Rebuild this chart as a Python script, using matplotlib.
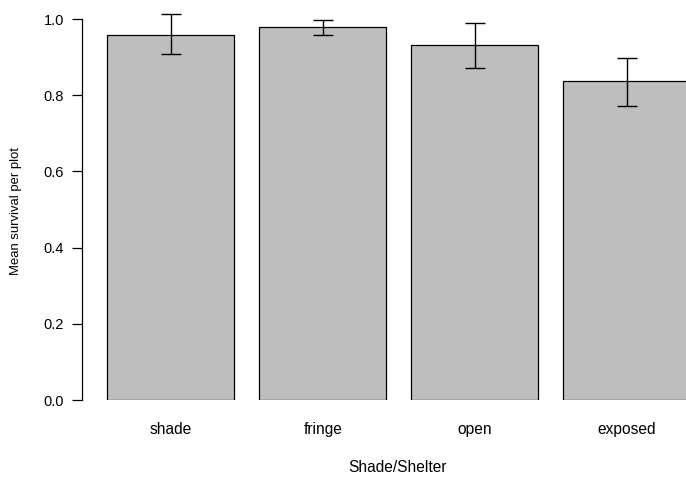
import matplotlib
matplotlib.use("Agg")
import matplotlib.pyplot as plt
import numpy as np

plt.rcParams['font.family'] = ['Liberation Sans', 'DejaVu Sans']

categories = ["shade", "fringe", "open", "exposed"]
means = [0.959, 0.980, 0.933, 0.838]
err_low = [0.052, 0.022, 0.062, 0.066]
err_high = [0.053, 0.017, 0.057, 0.061]
yticks = [0.0, 0.2, 0.4, 0.6, 0.8, 1.0]

W, H = 686, 479
unit = 126.7
fig = plt.figure(figsize=(W / 100, H / 100), dpi=100)
ax = fig.add_axes([82 / W, (H - 400) / H, (W - 82) / W, 400 / H])

x = 0.2 + 0.5 + np.arange(len(categories)) * 1.2
ax.bar(x, means, width=1.0, color="#BEBEBE", edgecolor="black", linewidth=0.9)
ax.errorbar(x, means, yerr=[err_low, err_high], fmt="none", ecolor="black",
            elinewidth=1.0, capsize=7.5, capthick=1.0, clip_on=False)

ax.set_xlim(0.0, (W - 82) / unit)
ax.set_ylim(0, 1.05)
for s in ["top", "right", "bottom"]:
    ax.spines[s].set_visible(False)
ax.spines["left"].set_bounds(0, 1.0)
ax.spines["left"].set_linewidth(0.9)
ax.set_yticks(yticks)
ax.set_yticklabels([f"{v:.1f}" for v in yticks], fontsize=10.5)
ax.tick_params(axis="y", length=7, width=0.9, pad=6)
ax.set_xticks(x)
ax.set_xticklabels(categories, fontsize=11.2)
ax.tick_params(axis="x", length=0, pad=16)

ax.set_xlabel("Shade/Shelter", fontsize=11.2)
ax.xaxis.set_label_coords((397.5 - 82) / (W - 82), (400 - 467) / 400)
ax.xaxis.label.set_va("center")
ax.set_ylabel("Mean survival per plot", fontsize=9.4)
ax.yaxis.set_label_coords((16 - 82) / (W - 82), (400 - 211) / 400)
ax.yaxis.label.set_va("center")

fig.savefig("out.png", dpi=100)
